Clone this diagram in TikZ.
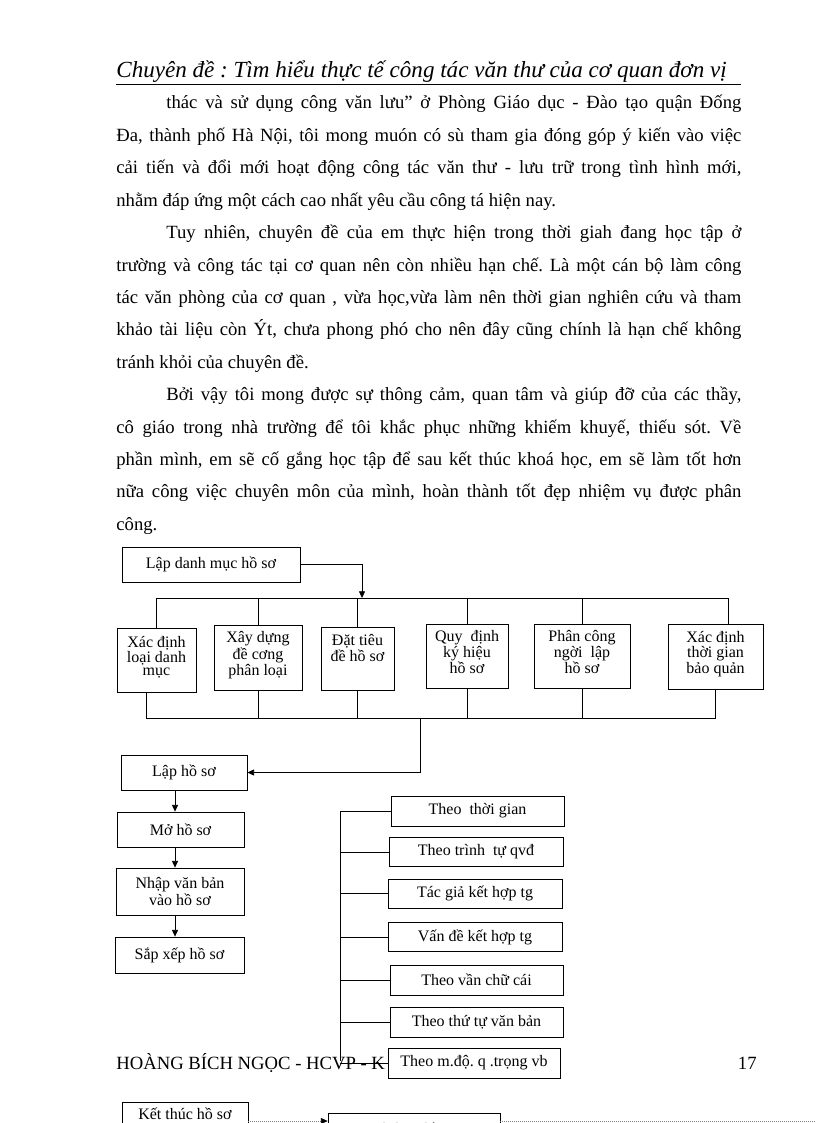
\documentclass[tikz,border=0pt]{standalone}
\usepackage{fontspec}
\setmainfont{Liberation Serif}
\usetikzlibrary{arrows.meta, positioning}
\frenchspacing

% justified lines of the body text
\newcommand{\justfull}[1]{\makebox[468.75pt][s]{#1}}
\newcommand{\justind}[1]{\makebox[431.25pt][s]{#1}}

\tikzset{
  bodytxt/.style={anchor=base west, inner sep=0pt, font=\fontsize{14}{16}\selectfont},
  boxdim/.style 2 args={minimum width=#1*0.75pt, minimum height=#2*0.75pt},
  box/.style={draw, fill=white, line width=0.6pt, inner sep=1pt, align=center,
    font=\fontsize{12}{11.2}\selectfont},
  tallbox/.style={box, font=\fontsize{12}{10}\selectfont, text depth=6pt},
  dotline/.style={densely dotted, gray, line width=0.5pt}
}

\begin{document}
\begin{tikzpicture}[x=0.75pt, y=-0.75pt, line width=0.6pt,
      >={Triangle[length=5pt, width=4.5pt]}]
  \useasboundingbox (0,0) rectangle (816,1123);

  % Header
  \node[anchor=base west, inner sep=0pt, font=\fontsize{17.3}{20}\selectfont\itshape]
    (head) at (116,78) {Chuyên đề : Tìm hiểu thực tế công tác văn thư của cơ quan đơn vị};
  \draw (116,84) -- (741,84);

  % Body text
  \node[bodytxt] (p1) at (166,109) {\justind{thác và sử dụng công văn lưu” ở Phòng Giáo dục - Đào tạo quận Đống}};
  \node[bodytxt] (p2) at (116,141.4) {\justfull{Đa, thành phố Hà Nội, tôi mong muón có sù tham gia đóng góp ý kiến vào việc}};
  \node[bodytxt] (p3) at (116,173.8) {\justfull{cải tiến và đổi mới hoạt động công tác văn thư - lưu trữ trong tình hình mới,}};
  \node[bodytxt] (p4) at (116,206.2) {nhằm đáp ứng một cách cao nhất yêu cầu công tá hiện nay.};
  \node[bodytxt] (p5) at (166,238.6) {\justind{Tuy nhiên, chuyên đề của em thực hiện trong thời giah đang học tập ở}};
  \node[bodytxt] (p6) at (116,271) {\justfull{trường và công tác tại cơ quan nên còn nhiều hạn chế. Là một cán bộ làm công}};
  \node[bodytxt] (p7) at (116,303.4) {\justfull{tác văn phòng của cơ quan , vừa học,vừa làm nên thời gian nghiên cứu và tham}};
  \node[bodytxt] (p8) at (116,335.8) {\justfull{khảo tài liệu còn Ýt, chưa phong phó cho nên đây cũng chính là hạn chế không}};
  \node[bodytxt] (p9) at (116,368.2) {tránh khỏi của chuyên đề.};
  \node[bodytxt] (p10) at (166,400.6) {\justind{Bởi vậy tôi mong được sự thông cảm, quan tâm và giúp đỡ của các thầy,}};
  \node[bodytxt] (p11) at (116,433) {\justfull{cô giáo trong nhà trường để tôi khắc phục những khiếm khuyế, thiếu sót. Về}};
  \node[bodytxt] (p12) at (116,465.4) {\justfull{phần mình, em sẽ cố gắng học tập để sau kết thúc khoá học, em sẽ làm tốt hơn}};
  \node[bodytxt] (p13) at (116,497.8) {\justfull{nữa công việc chuyên môn của mình, hoàn thành tốt đẹp nhiệm vụ được phân}};
  \node[bodytxt] (p14) at (116,530.2) {công.};

  % Footer (partly covered by the last box)
  \node[bodytxt] (foot) at (116,1069) {HOÀNG BÍCH NGỌC - HCVP - K};
  \node[bodytxt, anchor=base east] (page) at (757,1069) {17};

  % Lập danh mục hồ sơ and its six steps
  \node[box, boxdim={178}{35}] (ldm) at (211,564.5) {Lập danh mục hồ sơ};
  \node[tallbox, boxdim={79}{64}] (b1) at (156.5,660) {Xác định\\loại danh\\mục};
  \node[tallbox, boxdim={88}{65}] (b2) at (258,657.5) {Xây dựng\\đề cơng\\phân loại};
  \node[tallbox, boxdim={73}{63}] (b3) at (357.5,658.5) {Đặt tiêu\\đề hồ sơ\\\mbox{}};
  \node[tallbox, boxdim={82}{64}] (b4) at (467,656) {Quy\ \ định\\ký hiệu\\hồ sơ};
  \node[tallbox, boxdim={96}{64}] (b5) at (582,656) {Phân công\\ngời\ \ lập\\hồ sơ};
  \node[tallbox, boxdim={95}{65}] (b6) at (715.5,656.5) {Xác định\\thời gian\\bảo quản};

  \coordinate (tb) at (362,598);
  \coordinate (bb) at (420,718);
  \draw[->] (ldm.east) -| (tb);
  \draw (b1.north |- tb) -- ([xshift=9.4pt]b6.north |- tb);
  \foreach \b in {b1,b2,b3,b4,b5}
    \draw (\b.north) -- (\b.north |- tb);
  \draw ([xshift=9.4pt]b6.north) -- ([xshift=9.4pt]b6.north |- tb);
  \draw ([xshift=-7.9pt]b1.south) -- ([xshift=-7.9pt]b1.south |- bb);
  \foreach \b in {b2,b3,b4,b5,b6}
    \draw (\b.south) -- (\b.south |- bb);
  \draw ([xshift=-7.9pt]b1.south |- bb) -- (b6.south |- bb);

  % Lập hồ sơ
  \node[box, boxdim={126}{35}] (lhs) at (184,772.5) {Lập hồ sơ};
  \node[box, boxdim={127}{35}] (mhs) at (180.5,829.5) {Mở hồ sơ};
  \node[box, boxdim={128}{47}] (nvb) at (180,891.5) {Nhập văn bản\\vào hồ sơ};
  \node[box, boxdim={129}{36}] (sx) at (179.5,955) {Sắp xếp hồ sơ};
  \node[box, boxdim={126}{24}] (kt) at (185,1114) {Kết thúc hồ sơ};

  \draw[->] (bb) |- (lhs.east);
  \coordinate (lc) at (175,0);
  \draw[->] (lc |- lhs.south) -- (lc |- mhs.north);
  \draw[->] (lc |- mhs.south) -- (lc |- nvb.north);
  \draw[->] (lc |- nvb.south) -- (lc |- sx.north);

  % Cách sắp xếp
  \coordinate (sp) at (340,0);
  \node[box, boxdim={173}{30}] (t1) at (477.5,811) {Theo\ \ thời gian};
  \node[box, boxdim={174}{29}] (t2) at (476,852) {Theo trình\ \ tự qvđ};
  \node[box, boxdim={174}{29}] (t3) at (475,893.5) {Tác giả kết hợp tg};
  \node[box, boxdim={174}{29}] (t4) at (475,937) {Vấn đề kết hợp tg};
  \node[box, boxdim={173}{30}] (t5) at (476.5,980) {Theo vần chữ cái};
  \node[box, boxdim={173}{30}] (t6) at (476.5,1022) {Theo thứ tự văn bản};
  \draw (sp |- t1.west) -- (sp |- 0,1061);
  \foreach \t in {t1,t2,t3,t4,t5,t6}
    \draw (sp |- \t.west) -- (\t.west);
  \node[box, boxdim={172}{30}] (t7) at (474,1063) {Theo m.độ. q .trọng vb};
  \draw (sp |- t7.west) -- (t7.west);

  % Bottom row, cut by the page edge
  \node[box, boxdim={172}{34}] (tr) at (414,1130) {Trình tự hồ sơ};
  \coordinate (re) at (816,1121);
  \draw[dotline, -{Triangle[length=5pt, width=4.5pt, black]}] (kt.east |- re) -- (tr.west |- re);
  \draw[dotline] (tr.east |- re) -- (re);
\end{tikzpicture}
\end{document}
